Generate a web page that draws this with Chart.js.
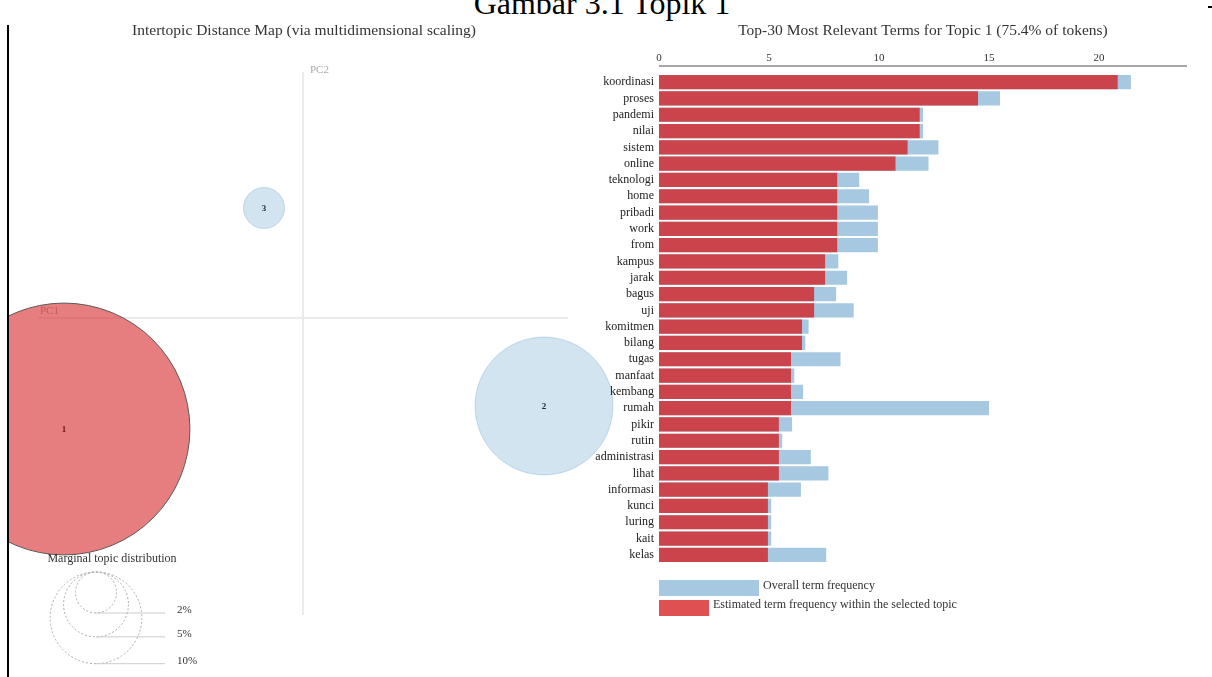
<!DOCTYPE html>
<html>
<head>
<meta charset="utf-8">
<script src="https://cdn.jsdelivr.net/npm/chart.js@4.4.0/dist/chart.umd.min.js"></script>
<style>
  html, body { margin: 0; padding: 0; background: #fff; }
  body { width: 1212px; height: 677px; overflow: hidden; position: relative; font-family: "Liberation Serif", "DejaVu Serif", serif; }
  #caption { position: absolute; left: 0; top: -15.5px; width: 1204px; text-align: center; font-size: 32px; line-height: 36px; color: #000; white-space: nowrap; }
  #rule { position: absolute; left: 7px; top: 25px; width: 2px; height: 652px; background: #000; }
  #dash { position: absolute; left: 1208px; top: 6px; width: 4px; height: 2px; background: #000; }
  #mapWrap { position: absolute; left: 9px; top: 0; width: 611px; height: 677px; }
  #barWrap { position: absolute; left: 580px; top: 0; width: 632px; height: 677px; }
  canvas { display: block; }
</style>
</head>
<body>
<div id="caption">Gambar 3.1 Topik 1</div>
<div id="dash"></div>
<div id="mapWrap"><canvas id="mapChart" width="611" height="677"></canvas></div>
<div id="barWrap"><canvas id="barChart" width="632" height="677"></canvas></div>
<div id="rule"></div>
<script>
// ---- Intertopic distance map ----
const topicIds = ['1', '2', '3'];
const topicPC1 = [-0.239, 0.241, -0.039];
const topicPC2 = [-0.111, -0.088, 0.110];
const topicShare = [75.4, 22.6, 2.0];          // % of tokens
const shareLegend = [2, 5, 10];                  // marginal distribution key (%)

// ---- Top-30 terms for topic 1 ----
const terms = ['koordinasi', 'proses', 'pandemi', 'nilai', 'sistem', 'online', 'teknologi', 'home', 'pribadi', 'work',
  'from', 'kampus', 'jarak', 'bagus', 'uji', 'komitmen', 'bilang', 'tugas', 'manfaat', 'kembang',
  'rumah', 'pikir', 'rutin', 'administrasi', 'lihat', 'informasi', 'kunci', 'luring', 'kait', 'kelas'];
const topicFreq = [20.85, 14.5, 11.85, 11.85, 11.3, 10.75, 8.1, 8.1, 8.1, 8.1,
  8.1, 7.55, 7.55, 7.05, 7.05, 6.5, 6.5, 6.0, 6.0, 6.0,
  6.0, 5.45, 5.45, 5.45, 5.45, 4.95, 4.95, 4.95, 4.95, 4.95];
const overallFreq = [21.45, 15.5, 12.0, 12.0, 12.7, 12.25, 9.1, 9.55, 9.95, 9.95,
  9.95, 8.15, 8.55, 8.05, 8.85, 6.8, 6.65, 8.25, 6.15, 6.55,
  15.0, 6.05, 5.6, 6.9, 7.7, 6.45, 5.1, 5.1, 5.1, 7.6];
const freqTicks = [0, 5, 10, 15, 20];

const SERIF = '"Liberation Serif", "DejaVu Serif", serif';
const RADIUS_PER_SQRT_PCT = 14.5;   // bubble radius in px per sqrt(% of tokens)

const RED_TOPIC = 'rgba(214,39,40,0.6)';
const BLUE_TOPIC = 'rgba(31,119,180,0.2)';

// guides, titles and the marginal distribution key around the bubbles
const mapDecor = {
  id: 'mapDecor',
  beforeDatasetsDraw(chart) {
    const { ctx, chartArea: a, scales: { x, y } } = chart;
    const x0 = x.getPixelForValue(0), y0 = y.getPixelForValue(0);
    ctx.save();
    ctx.strokeStyle = 'rgba(0,0,0,0.08)';
    ctx.lineWidth = 2;
    ctx.beginPath();
    ctx.moveTo(a.left, y0); ctx.lineTo(a.right, y0);
    ctx.moveTo(x0, a.top); ctx.lineTo(x0, a.bottom);
    ctx.stroke();
    ctx.fillStyle = '#aaa';
    ctx.font = '11px ' + SERIF;
    ctx.textBaseline = 'alphabetic';
    ctx.textAlign = 'left';
    ctx.fillText('PC2', x0 + 7, a.top + 1);
    ctx.fillText('PC1', a.left + 2, y0 - 4);
    ctx.restore();
  },
  afterDatasetsDraw(chart) {
    const { ctx } = chart;
    const meta = chart.getDatasetMeta(0);
    ctx.save();
    // topic numbers
    ctx.font = 'bold 9px ' + SERIF;
    ctx.textAlign = 'center';
    ctx.textBaseline = 'middle';
    meta.data.forEach((pt, i) => {
      ctx.fillStyle = i === 0 ? '#6e1616' : '#1a2a3a';
      ctx.fillText(topicIds[i], pt.x, pt.y + 1);
    });
    // panel title
    ctx.fillStyle = '#333';
    ctx.font = '15.5px ' + SERIF;
    ctx.fillText('Intertopic Distance Map (via multidimensional scaling)', 295, 31);
    // marginal topic distribution key
    ctx.font = '12px ' + SERIF;
    ctx.fillText('Marginal topic distribution', 103, 559);
    const cx = 87, top = 572;
    shareLegend.forEach(p => {
      const r = RADIUS_PER_SQRT_PCT * Math.sqrt(p);
      ctx.setLineDash([2, 2]);
      ctx.strokeStyle = '#aaa';
      ctx.lineWidth = 1;
      ctx.beginPath();
      ctx.arc(cx, top + r, r, 0, Math.PI * 2);
      ctx.stroke();
      ctx.setLineDash([]);
      ctx.strokeStyle = '#ccc';
      ctx.beginPath();
      ctx.moveTo(cx, top + 2 * r); ctx.lineTo(156, top + 2 * r);
      ctx.stroke();
      ctx.fillStyle = '#333';
      ctx.font = '11px ' + SERIF;
      ctx.textAlign = 'left';
      ctx.fillText(p + '%', 168, top + 2 * r - 3);
    });
    ctx.restore();
  }
};

new Chart(document.getElementById('mapChart'), {
  type: 'bubble',
  data: {
    datasets: [{
      label: 'Topics',
      data: topicPC1.map((v, i) => ({ x: v, y: topicPC2[i], r: RADIUS_PER_SQRT_PCT * Math.sqrt(topicShare[i]) })),
      backgroundColor: topicShare.map((_, i) => i === 0 ? RED_TOPIC : BLUE_TOPIC),
      borderColor: topicShare.map((_, i) => i === 0 ? '#5a5a5a' : 'rgba(31,119,180,0.22)'),
      borderWidth: 1,
      clip: false
    }]
  },
  options: {
    responsive: false,
    animation: false,
    layout: { autoPadding: false, padding: { left: 29, right: 52, top: 72, bottom: 62 } },
    scales: {
      x: { type: 'linear', min: -0.265, max: 0.265, display: false },
      y: { type: 'linear', min: -0.297, max: 0.246, display: false }
    },
    plugins: { legend: { display: false }, tooltip: { enabled: false } }
  },
  plugins: [mapDecor]
});

// axis rule, panel title and the two-swatch key of the bar panel
const barDecor = {
  id: 'barDecor',
  afterDraw(chart) {
    const { ctx, chartArea: a } = chart;
    ctx.save();
    ctx.strokeStyle = '#8a8a8a';
    ctx.lineWidth = 1.5;
    ctx.beginPath();
    ctx.moveTo(a.left, a.top - 8); ctx.lineTo(a.right, a.top - 8);
    ctx.stroke();
    ctx.fillStyle = '#333';
    ctx.font = '15.5px ' + SERIF;
    ctx.textAlign = 'center';
    ctx.textBaseline = 'middle';
    ctx.fillText('Top-30 Most Relevant Terms for Topic 1 (75.4% of tokens)', (a.left + a.right) / 2, 31);
    const ds = chart.data.datasets;
    ctx.font = '12px ' + SERIF;
    ctx.textAlign = 'left';
    ctx.fillStyle = ds[1].backgroundColor;
    ctx.fillRect(a.left, 580, 100, 16);
    ctx.fillStyle = '#333';
    ctx.fillText(ds[1].label, a.left + 104, 586);
    ctx.fillStyle = 'rgb(223,80,82)';
    ctx.fillRect(a.left, 600, 50, 16);
    ctx.fillStyle = '#333';
    ctx.fillText(ds[0].label, a.left + 54, 605);
    ctx.restore();
  }
};

new Chart(document.getElementById('barChart'), {
  type: 'bar',
  data: {
    labels: terms,
    datasets: [
      { label: 'Estimated term frequency within the selected topic', data: topicFreq, backgroundColor: 'rgb(203,68,75)', order: 0 },
      { label: 'Overall term frequency', data: overallFreq, backgroundColor: 'rgb(166,201,225)', order: 1 }
    ]
  },
  options: {
    indexAxis: 'y',
    responsive: false,
    animation: false,
    layout: { padding: { left: 0, right: 25, top: 0, bottom: 114 } },
    datasets: { bar: { grouped: false, categoryPercentage: 1, barPercentage: 0.87 } },
    scales: {
      x: {
        position: 'top', min: 0, max: 24,
        afterBuildTicks: s => { s.ticks = freqTicks.map(v => ({ value: v })); },
        afterFit: s => { s.height = 74; },
        grid: { display: false, drawTicks: false },
        border: { display: false },
        ticks: { padding: 9, color: '#333', font: { family: SERIF, size: 11 } }
      },
      y: {
        afterFit: s => { s.width = 79; },
        grid: { display: false, drawTicks: false },
        border: { display: false },
        ticks: { padding: 5, autoSkip: false, color: '#222', font: { family: SERIF, size: 12 } }
      }
    },
    plugins: { legend: { display: false }, tooltip: { enabled: false } }
  },
  plugins: [barDecor]
});
</script>
</body>
</html>
